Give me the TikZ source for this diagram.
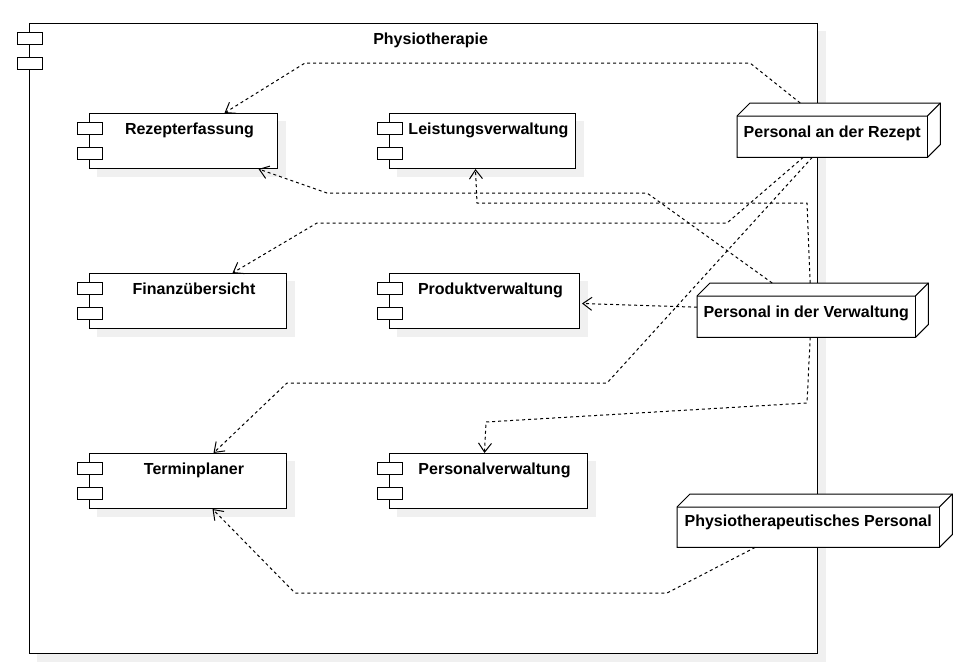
\documentclass[tikz,border=0pt]{standalone}
\usepackage{fontspec}
\setmainfont{Liberation Sans}
\usetikzlibrary{arrows.meta,calc,backgrounds}

\tikzset{
  outline/.style={draw=black, line width=1pt},
  compbox/.style={outline, fill=white, rectangle, inner sep=0pt, anchor=north west},
  nodebox/.style={rectangle, inner sep=0pt, anchor=north west},
  lbl/.style={font=\bfseries\fontsize{16}{19}\selectfont, anchor=base, inner sep=0pt},
  dep/.style={draw=black, line width=1pt, dash pattern=on 3pt off 3pt,
              -{Straight Barb[length=9pt,width=13pt]}},
  shade/.style={fill=black!6, draw=none},
}

% the two small tabs of a UML component symbol
\newcommand\CompTabs[1]{%
  \draw[outline, fill=white] ($(#1.north west)+(-12,9)$) rectangle +(25,12);
  \draw[outline, fill=white] ($(#1.north west)+(-12,34)$) rectangle +(25,12);
}
% outline of a 3D deployment node filling the bounding node #1, depth #2
\newcommand\NodePath[2]{%
  (#1.south west) -- ($(#1.north west)+(0,#2)$) -- ($(#1.north west)+(#2,0)$)
  -- (#1.north east) -- ($(#1.south east)+(0,-#2)$) -- ($(#1.south east)+(-#2,0)$) -- cycle
}
\newcommand\NodeFaces[2]{%
  \draw[outline, fill=white, line join=miter] \NodePath{#1}{#2};
  \draw[outline] ($(#1.north west)+(0,#2)$) -- ($(#1.north east)+(-#2,#2)$) -- (#1.north east);
  \draw[outline] ($(#1.north east)+(-#2,#2)$) -- ($(#1.south east)+(-#2,0)$);
}

\begin{document}
\begin{tikzpicture}[x=1pt, y=-1pt]
\useasboundingbox (0,0) rectangle (962,672);

% system frame
\node[outline, line width=1.3pt, rectangle, inner sep=0pt, anchor=north west,
      minimum width=788pt, minimum height=630pt,
      label={[lbl, xshift=7pt, yshift=-21pt]north:Physiotherapie}] (sys) at (29,23) {};
\CompTabs{sys}

% components
\node[compbox, minimum width=188pt, minimum height=55pt,
      label={[lbl, xshift=6pt, yshift=-21pt]north:Rezepterfassung}] (rez) at (89,113) {};
\node[compbox, minimum width=186pt, minimum height=55pt,
      label={[lbl, xshift=6pt, yshift=-21pt]north:Leistungsverwaltung}] (lei) at (389,113) {};
\node[compbox, minimum width=197pt, minimum height=55pt,
      label={[lbl, xshift=6pt, yshift=-21pt]north:Finanzübersicht}] (fin) at (89,273) {};
\node[compbox, minimum width=190pt, minimum height=55pt,
      label={[lbl, xshift=6pt, yshift=-21pt]north:Produktverwaltung}] (pro) at (389,273) {};
\node[compbox, minimum width=197pt, minimum height=55pt,
      label={[lbl, xshift=6pt, yshift=-21pt]north:Terminplaner}] (ter) at (89,453) {};
\node[compbox, minimum width=198pt, minimum height=55pt,
      label={[lbl, xshift=6pt, yshift=-21pt]north:Personalverwaltung}] (per) at (389,453) {};
\foreach \c in {rez,lei,fin,pro,ter,per} {\CompTabs{\c}}

% deployment nodes (bounding boxes; faces drawn below)
\node[nodebox, minimum width=203pt, minimum height=54pt] (pr) at (737,103) {};
\node[nodebox, minimum width=231pt, minimum height=54pt] (pv) at (697,283) {};
\node[nodebox, minimum width=275pt, minimum height=53pt] (pt) at (677,494) {};
\NodeFaces{pr}{13}
\NodeFaces{pv}{13}
\NodeFaces{pt}{13}
\node[lbl, name=prl] at ([xshift=-6.5pt, yshift=-34pt]pr.north) {Personal an der Rezept};
\node[lbl, name=pvl] at ([xshift=-6.5pt, yshift=-34pt]pv.north) {Personal in der Verwaltung};
\node[lbl, name=ptl] at ([xshift=-6.5pt, yshift=-32pt]pt.north) {Physiotherapeutisches Personal};

% dependencies
\draw[dep] ([xshift=-38.5pt]pr.north) -- (750,63) -- (305,63) -- ([xshift=41pt]rez.north);
\draw[dep] ([xshift=-35.5pt]pr.south) -- (727,223) -- (317,223) -- ([xshift=44.5pt]fin.north);
\draw[dep] ([xshift=-26.5pt]pr.south) -- (607,383) -- (287,383) -- ([xshift=25.5pt]ter.north);
\draw[dep] ([xshift=-40.5pt]pv.north) -- (647,193) -- (327,193) -- ([xshift=75pt]rez.south);
\draw[dep] ([xshift=-2.5pt]pv.north) -- (807,203) -- (477,203) -- ([xshift=-7pt]lei.south);
\draw[dep] ([yshift=3pt]pv.west) -- ([xshift=2pt, yshift=-2.5pt]pro.east);
\draw[dep] ([xshift=-2.5pt]pv.south) -- (807,403) -- (486,422) -- ([xshift=-4pt]per.north);
\draw[dep] ([xshift=-59.5pt]pt.south) -- (667,593) -- (295,593) -- ([xshift=24.5pt]ter.south);

% page, frame interior and drop shadows
\begin{scope}[on background layer]
  \fill[white] (0,0) rectangle (962,672);
  \fill[shade] ($(sys.north west)+(8,8)$) rectangle ($(sys.south east)+(8,8)$);
  \fill[white] (sys.north west) rectangle (sys.south east);
  \foreach \c in {rez,lei,fin,pro,ter,per}
    {\fill[shade] ($(\c.north west)+(8,8)$) rectangle ($(\c.south east)+(8,8)$);}
  \begin{scope}[shift={(8,8)}]
    \fill[shade] \NodePath{pr}{13};
    \fill[shade] \NodePath{pv}{13};
    \fill[shade] \NodePath{pt}{13};
  \end{scope}
\end{scope}
\end{tikzpicture}
\end{document}
